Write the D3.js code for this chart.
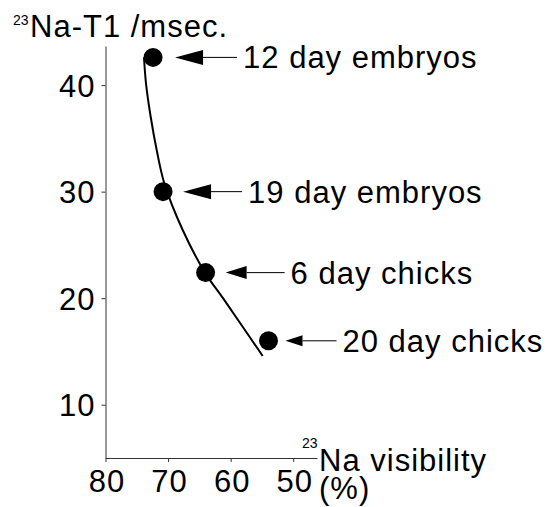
<!DOCTYPE html>
<html>
<head>
<meta charset="utf-8">
<script src="https://cdn.jsdelivr.net/npm/d3@7"></script>
<style>
  html, body { margin: 0; padding: 0; background: #fff; }
  svg text { font-family: "Liberation Sans", Arial, Helvetica, sans-serif; fill: #000; }
</style>
</head>
<body>
<svg id="chart" width="555" height="507"></svg>
<script>
// -------------------------
// Data
// -------------------------
const groups = ["12 day embryos", "19 day embryos", "6 day chicks", "20 day chicks"];
const visibility = [72.4, 70.8, 64.0, 53.95];   // 23Na visibility (%)
const t1 = [42.6, 30.0, 22.4, 16.0];            // 23Na-T1 (msec)

// fitted curve
const curveX = [73.85, 73.53, 72.78, 71.82, 70.60, 67.66, 64.1, 61.22, 58.82, 54.88];
const curveY = [42.61, 40.17, 37.03, 33.91, 30.78, 26.40, 22.4, 20.0, 17.95, 14.57];

const xTicks = [80, 70, 60, 50];
const yTicks = [10, 20, 30, 40];

// arrow/label layout (pixels relative to each dot)
const arrowLayout = [
  {tip: 22, head: 28, half: 7.5, text: 90},
  {tip: 20, head: 28, half: 7.5, text: 85},
  {tip: 20, head: 21, half: 6.5, text: 85},
  {tip: 17, head: 17, half: 5.5, text: 74}
];

// -------------------------
// Scales
// -------------------------
const svg = d3.select("#chart");
const x = d3.scaleLinear().domain([80, 46.2]).range([105.5, 317]);
const y = d3.scaleLinear().domain([5, 43.67]).range([458, 46]);
const FS = 31, LS = "1px";

// axes
const xAxis = svg.append("g")
  .attr("transform", `translate(0,${y(5)})`)
  .call(d3.axisBottom(x).tickValues(xTicks).tickSize(4).tickSizeOuter(0).tickFormat(d3.format("d")));
const yAxis = svg.append("g")
  .attr("transform", `translate(${x(80)},0)`)
  .call(d3.axisLeft(y).tickValues(yTicks).tickSize(4).tickSizeOuter(0).tickFormat(d3.format("d")));

[xAxis, yAxis].forEach(g => {
  g.select(".domain").attr("stroke", "#333").attr("stroke-width", 1);
  g.selectAll(".tick line").attr("stroke", "#333").attr("stroke-width", 1);
  g.selectAll("text")
    .style("font-size", FS + "px")
    .style("letter-spacing", LS)
    .attr("fill", "#000");
});
xAxis.selectAll("text").attr("y", 0).attr("dy", null).attr("transform", "translate(1,34)");
yAxis.selectAll("text").attr("x", -10).attr("dy", "0.36em");

// curve
const pts = curveX.map((v, i) => [x(v), y(curveY[i])]);
svg.append("path")
  .attr("d", d3.line().curve(d3.curveCatmullRom.alpha(0.5))(pts))
  .attr("fill", "none")
  .attr("stroke", "#000")
  .attr("stroke-width", 2);

// dots
svg.selectAll("circle.dot")
  .data(groups)
  .enter()
  .append("circle")
  .attr("class", "dot")
  .attr("cx", (d, i) => x(visibility[i]))
  .attr("cy", (d, i) => y(t1[i]))
  .attr("r", 9.5)
  .attr("fill", "#000");

// arrows + labels
groups.forEach((name, i) => {
  const cx = x(visibility[i]), cy = y(t1[i]);
  const a = arrowLayout[i];
  const tip = cx + a.tip, base = tip + a.head, textX = cx + a.text;
  svg.append("path")
    .attr("d", `M${tip},${cy}L${base},${cy - a.half}L${base},${cy + a.half}Z`)
    .attr("fill", "#000");
  svg.append("line")
    .attr("x1", base).attr("x2", textX - 6)
    .attr("y1", cy).attr("y2", cy)
    .attr("stroke", "#000").attr("stroke-width", 1);
  svg.append("text")
    .attr("x", textX)
    .attr("y", cy + 11)
    .style("font-size", FS + "px")
    .style("letter-spacing", LS)
    .text(name);
});

// axis titles
svg.append("text").attr("x", 13).attr("y", 25).style("font-size", "14px").text("23");
svg.append("text").attr("x", 30).attr("y", 37)
  .style("font-size", FS + "px").style("letter-spacing", LS).text("Na-T1 /msec.");

svg.append("text").attr("x", 302).attr("y", 448).style("font-size", "14px").text("23");
svg.append("text").attr("x", 319).attr("y", 471)
  .style("font-size", FS + "px").style("letter-spacing", LS).text("Na visibility");
svg.append("text").attr("x", 319).attr("y", 499)
  .style("font-size", FS + "px").style("letter-spacing", LS).text("(%)");
</script>
</body>
</html>
